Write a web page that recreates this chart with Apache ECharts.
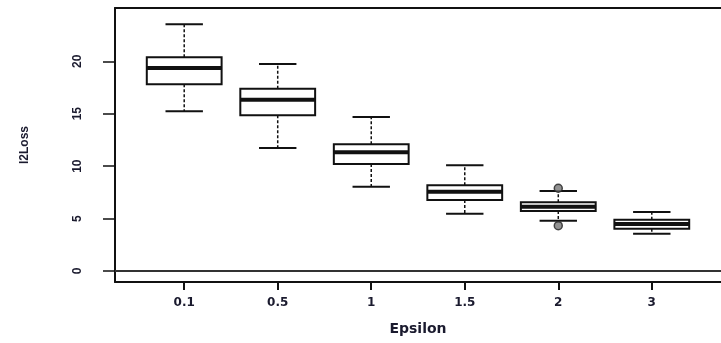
<!DOCTYPE html>
<html>
<head>
<meta charset="utf-8">
<script src="https://cdn.jsdelivr.net/npm/echarts@6/dist/echarts.min.js"></script>
<style>
  html, body { margin: 0; padding: 0; background: #fff; }
  #chart { width: 721px; height: 343px; }
</style>
</head>
<body>
<div id="chart"></div>
<script>
// boxplot stats per epsilon
const epsilon = ['0.1', '0.5', '1', '1.5', '2', '3'];
const lowWhisker = [15.23, 11.73, 8.04, 5.47, 4.80, 3.56];
const q1 = [17.80, 14.85, 10.20, 6.77, 5.72, 4.03];
const median = [19.36, 16.34, 11.32, 7.56, 6.13, 4.48];
const q3 = [20.38, 17.39, 12.08, 8.17, 6.55, 4.89];
const highWhisker = [23.53, 19.74, 14.69, 10.08, 7.63, 5.63];
// outliers: [group position, value]
const outliers = [[5, 7.89], [5, 4.32]];
const yTicks = [0, 5, 10, 15, 20];
const xTicks = [1, 2, 3, 4, 5, 6];

const ink = '#111';
const txt = '#1a1a2e';

var boxData = epsilon.map(function (e, i) {
  return [i + 1, lowWhisker[i], q1[i], median[i], q3[i], highWhisker[i]];
});

function renderBox(params, api) {
  var x = api.value(0);
  var half = api.size([0.8, 0])[0] / 2;
  var stapleHalf = half / 2;
  var pLo = api.coord([x, api.value(1)]);
  var pQ1 = api.coord([x, api.value(2)]);
  var pMed = api.coord([x, api.value(3)]);
  var pQ3 = api.coord([x, api.value(4)]);
  var pHi = api.coord([x, api.value(5)]);
  var cx = pMed[0];
  var dash = { stroke: ink, lineWidth: 1.5, lineDash: [3, 2] };
  var solid = { stroke: ink, lineWidth: 2 };
  return {
    type: 'group',
    children: [
      { type: 'line', shape: { x1: cx, y1: pQ3[1], x2: cx, y2: pHi[1] }, style: dash },
      { type: 'line', shape: { x1: cx, y1: pQ1[1], x2: cx, y2: pLo[1] }, style: dash },
      { type: 'line', shape: { x1: cx - stapleHalf, y1: pHi[1], x2: cx + stapleHalf, y2: pHi[1] }, style: solid },
      { type: 'line', shape: { x1: cx - stapleHalf, y1: pLo[1], x2: cx + stapleHalf, y2: pLo[1] }, style: solid },
      { type: 'rect', shape: { x: cx - half, y: pQ3[1], width: half * 2, height: pQ1[1] - pQ3[1] },
        style: { fill: '#fff', stroke: ink, lineWidth: 2 } },
      { type: 'line', shape: { x1: cx - half, y1: pMed[1], x2: cx + half, y2: pMed[1] },
        style: { stroke: ink, lineWidth: 4 } }
    ]
  };
}

var chart = echarts.init(document.getElementById('chart'));
chart.setOption({
  backgroundColor: '#fff',
  animation: false,
  grid: { left: 115, top: 8, width: 609, bottom: 61 },
  xAxis: [{
    type: 'value',
    min: 0.26,
    max: 6.74,
    position: 'bottom',
    name: 'Epsilon',
    nameLocation: 'middle',
    nameGap: 40,
    nameTextStyle: { color: txt, fontSize: 14, fontWeight: 'bold', fontFamily: 'DejaVu Sans' },
    axisLine: { onZero: false, lineStyle: { color: ink, width: 2 } },
    axisTick: { customValues: xTicks, length: 8, lineStyle: { color: ink, width: 2 } },
    axisLabel: {
      customValues: xTicks,
      margin: 15,
      color: txt,
      fontSize: 12,
      fontWeight: 'bold',
      fontFamily: 'DejaVu Sans',
      formatter: function (v) { return epsilon[Math.round(v) - 1]; }
    },
    splitLine: { show: false }
  }, {
    type: 'value',
    min: 0.26,
    max: 6.74,
    position: 'top',
    axisLine: { onZero: false, lineStyle: { color: ink, width: 2 } },
    axisTick: { show: false },
    axisLabel: { show: false },
    splitLine: { show: false }
  }],
  yAxis: {
    type: 'value',
    min: -1.05,
    max: 25.08,
    name: 'l2Loss',
    nameLocation: 'middle',
    nameGap: 84,
    nameTextStyle: { color: txt, fontSize: 12, fontWeight: 'bold', fontFamily: 'Liberation Sans' },
    axisLine: { show: true, onZero: false, lineStyle: { color: ink, width: 2 } },
    axisTick: { customValues: yTicks, length: 12, lineStyle: { color: ink, width: 1.5 } },
    axisLabel: {
      customValues: yTicks,
      rotate: 90,
      margin: 31,
      color: txt,
      fontSize: 12,
      fontWeight: 'bold',
      fontFamily: 'Liberation Sans'
    },
    splitLine: { show: false }
  },
  series: [{
    type: 'custom',
    renderItem: renderBox,
    data: boxData,
    encode: { x: 0, y: [1, 2, 3, 4, 5] },
    markLine: {
      silent: true,
      symbol: 'none',
      label: { show: false },
      lineStyle: { color: '#333', width: 2, type: 'solid' },
      data: [{ yAxis: 0 }]
    },
    z: 2
  }, {
    type: 'scatter',
    data: outliers,
    symbol: 'circle',
    symbolSize: 8,
    itemStyle: { color: '#777', borderColor: '#222', borderWidth: 1.5 },
    z: 3
  }]
});
</script>
</body>
</html>
